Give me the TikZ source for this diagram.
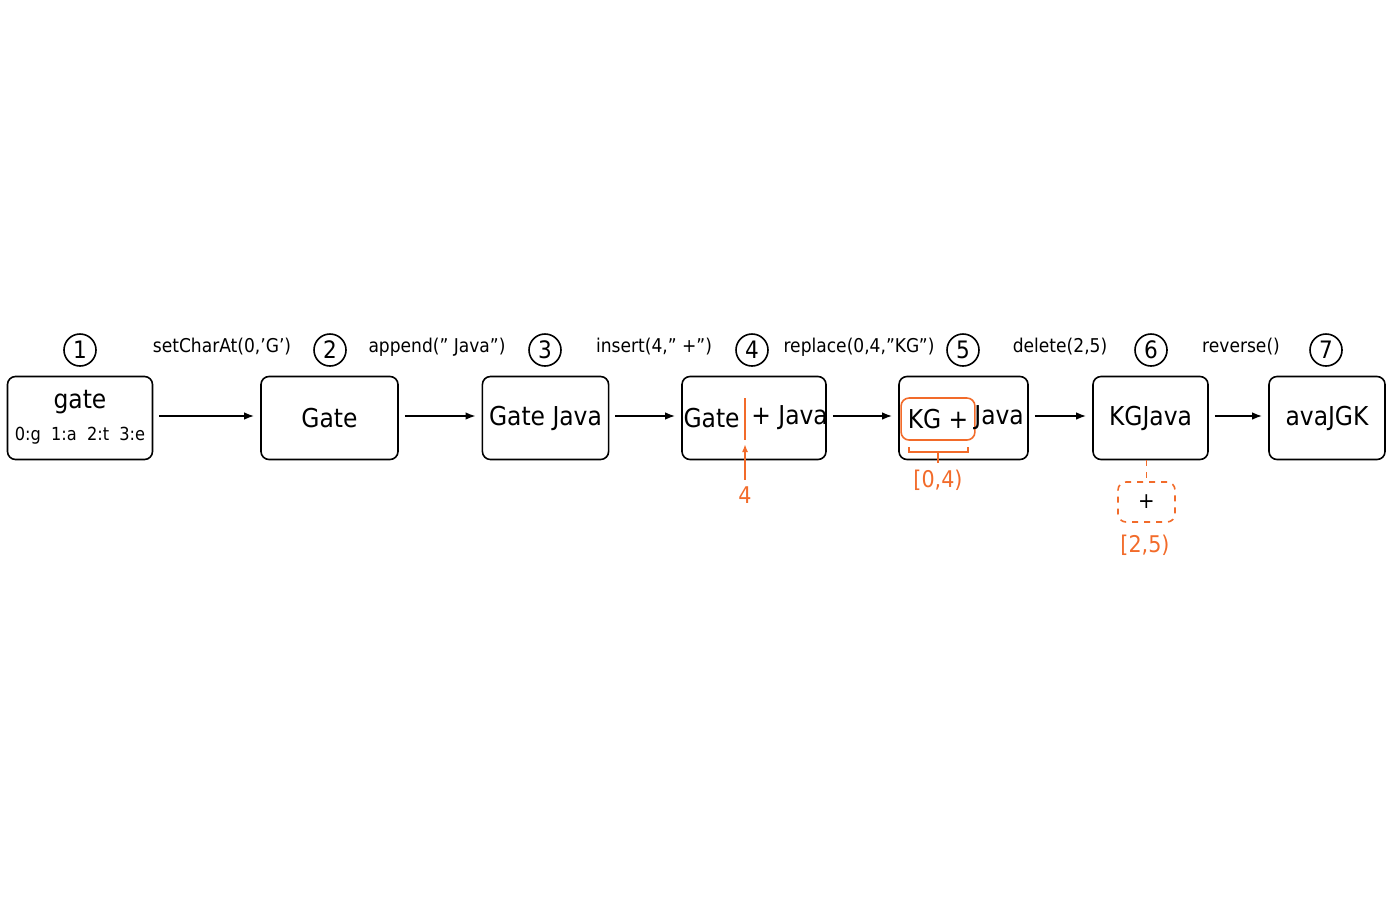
\documentclass[tikz,border=0pt]{standalone}
\usepackage{fontspec}
\setmainfont{DejaVu Sans Condensed}
\usetikzlibrary{arrows.meta}
\definecolor{hl}{HTML}{F26B2A}
\begin{document}
\begin{tikzpicture}[x=0.5pt, y=-0.5pt,
    strbox/.style={draw, thick, rounded corners=4pt, minimum height=41.5pt, font=\fontsize{13}{15}\selectfont},
    num/.style={draw, thick, circle, minimum size=16pt, inner sep=0pt, font=\fontsize{12}{14}\selectfont},
    op/.style={font=\fontsize{9.5}{11}\selectfont},
    flow/.style={-{Latex[length=5pt]}, thick},
    hlabel/.style={hl, font=\fontsize{11.5}{13}\selectfont},
    ]
\useasboundingbox (0,0) rectangle (1400,900);

% boxes
\node[strbox, minimum width=72.5pt] (s1) at (80,418) {};
\node[font=\fontsize{13}{15}\selectfont] (t1) at (80,402) {gate};
\node[font=\fontsize{9}{11}\selectfont] (i1) at (80,436) {0:g\ \ 1:a\ \ 2:t\ \ 3:e};
\node[strbox, minimum width=68.5pt] (s2) at (329.5,418) {Gate};
\node[strbox, minimum width=62.5pt] (s3) at (545.5,418) {Gate Java};
\node[strbox, minimum width=72pt] (s4) at (754,418) {};
\node[strbox, minimum width=64.5pt] (s5) at (963.5,418) {};
\node[strbox, minimum width=57.5pt] (s6) at (1150.5,418) {KGJava};
\node[strbox, minimum width=58pt] (s7) at (1327,418) {avaJGK};

% step numbers
\foreach \n/\x in {1/80, 2/330, 3/545, 4/752, 5/963, 6/1151, 7/1326}
    \node[num] (n\n) at (\x,350) {\n};

% operations
\node[op] (o1) at (222,347) {setCharAt(0,'G')};
\node[op] (o2) at (437,347) {append(" Java")};
\node[op] (o3) at (654,347) {insert(4," +")};
\node[op] (o4) at (859,347) {replace(0,4,"KG")};
\node[op] (o5) at (1060,347) {delete(2,5)};
\node[op] (o6) at (1241,347) {reverse()};

\foreach \a/\b in {s1/s2, s2/s3, s3/s4, s4/s5, s5/s6, s6/s7}
    \draw[flow] ([xshift=3pt]\a.east |- 0,416) -- ([xshift=-3pt]\b.west |- 0,416);

% step 4: insert point
\node[font=\fontsize{13}{15}\selectfont, anchor=east, inner sep=0pt] (g4) at (740,418) {Gate};
\node[font=\fontsize{13}{15}\selectfont, anchor=west, inner sep=0pt] (j4) at (751,418) {+ Java};
\coordinate (c4a) at (745,398);
\coordinate (c4b) at (745,440);
\draw[hl, thick] (c4a) -- (c4b);
\node[hlabel] (k4) at (745,495) {4};
\draw[hl, thick, -{Latex[length=4pt]}] (k4.north) -- (745,444);

% step 5: replaced range
\node[draw=hl, thick, rounded corners=4pt, minimum width=32pt, minimum height=21pt,
      font=\fontsize{13}{15}\selectfont] (r5) at (938,419) {KG +};
\node[font=\fontsize{13}{15}\selectfont, anchor=west, inner sep=0pt] (j5) at (974,418) {Java};
\draw[hl, thick] (909,447) -- (909,452) -- (968,452) -- (968,447);
\coordinate (b5) at (938,452);
\node[hlabel] (k5) at (938,480) {[0,4)};
\draw[hl, thick] (b5) -- (k5.north);

% step 6: deleted range
\node[draw=hl, thick, dashed, rounded corners=4pt, minimum width=28.5pt, minimum height=20pt,
      font=\fontsize{11}{13}\selectfont] (d6) at (1146.5,502) {+};
\draw[hl, thick, dashed] (s6.south -| d6) -- (d6.north);
\node[hlabel] (k6) at (1145,545) {[2,5)};
\end{tikzpicture}
\end{document}
